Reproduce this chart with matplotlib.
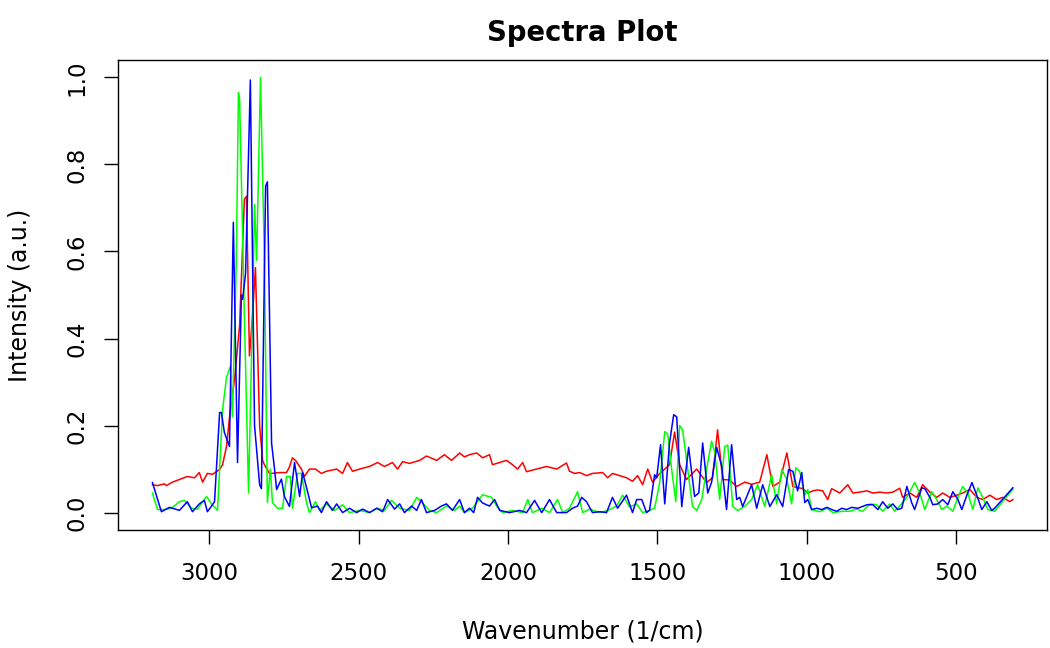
import matplotlib
matplotlib.use("Agg")
import matplotlib.pyplot as plt

# Spectra (wavenumber in 1/cm, intensity in a.u.)
red_wn = [3191, 3174, 3151, 3144, 3124, 3101, 3074, 3050, 3034, 3023, 3007, 2990,
          2966, 2956, 2943, 2930, 2916, 2899, 2883, 2876, 2866, 2856, 2846, 2832,
          2822, 2816, 2799, 2792, 2765, 2742, 2732, 2722, 2712, 2692, 2682, 2665,
          2645, 2625, 2608, 2574, 2554, 2538, 2521, 2497, 2464, 2437, 2414, 2387,
          2370, 2353, 2330, 2296, 2273, 2239, 2213, 2189, 2162, 2146, 2129, 2105,
          2085, 2062, 2052, 2028, 2005, 1985, 1968, 1951, 1938, 1904, 1871, 1837,
          1804, 1794, 1777, 1760, 1737, 1717, 1683, 1666, 1650, 1626, 1603, 1583,
          1566, 1549, 1532, 1516, 1492, 1475, 1459, 1442, 1425, 1402, 1368, 1335,
          1315, 1298, 1281, 1258, 1234, 1207, 1184, 1157, 1133, 1113, 1090, 1066,
          1046, 1013, 996, 979, 963, 946, 929, 916, 889, 862, 845, 822, 798, 778,
          755, 731, 711, 688, 678, 654, 631, 611, 587, 564, 544, 520, 497, 477,
          453, 430, 410, 386, 363, 343, 319, 309]
red_int = [0.064, 0.062, 0.066, 0.062, 0.070, 0.076, 0.083, 0.080, 0.092, 0.070, 0.090, 0.088,
           0.099, 0.110, 0.152, 0.237, 0.306, 0.430, 0.720, 0.727, 0.360, 0.450, 0.563, 0.200,
           0.120, 0.110, 0.090, 0.090, 0.092, 0.092, 0.105, 0.126, 0.120, 0.100, 0.083, 0.100,
           0.100, 0.090, 0.095, 0.100, 0.090, 0.115, 0.095, 0.100, 0.106, 0.115, 0.106, 0.115,
           0.100, 0.117, 0.113, 0.120, 0.130, 0.120, 0.133, 0.120, 0.137, 0.128, 0.133, 0.137,
           0.126, 0.133, 0.110, 0.115, 0.120, 0.110, 0.100, 0.115, 0.094, 0.100, 0.106, 0.100,
           0.114, 0.095, 0.090, 0.092, 0.085, 0.090, 0.092, 0.080, 0.090, 0.085, 0.080, 0.072,
           0.085, 0.064, 0.100, 0.070, 0.090, 0.100, 0.110, 0.185, 0.110, 0.076, 0.100, 0.069,
           0.080, 0.190, 0.076, 0.075, 0.060, 0.070, 0.065, 0.070, 0.133, 0.060, 0.070, 0.137,
           0.060, 0.055, 0.045, 0.050, 0.052, 0.050, 0.030, 0.055, 0.045, 0.064, 0.045, 0.047,
           0.050, 0.045, 0.047, 0.045, 0.047, 0.056, 0.035, 0.045, 0.035, 0.064, 0.047, 0.035,
           0.045, 0.035, 0.040, 0.045, 0.053, 0.035, 0.030, 0.040, 0.030, 0.035, 0.025, 0.030]

green_wn = [3191, 3174, 3151, 3127, 3101, 3084, 3060, 3040, 3010, 2993, 2973, 2956,
            2943, 2930, 2923, 2910, 2903, 2899, 2883, 2869, 2856, 2849, 2842, 2829,
            2816, 2806, 2796, 2789, 2772, 2755, 2742, 2729, 2722, 2705, 2692, 2675,
            2665, 2645, 2631, 2608, 2581, 2554, 2531, 2497, 2464, 2437, 2414, 2390,
            2363, 2330, 2306, 2290, 2263, 2239, 2206, 2179, 2162, 2146, 2119, 2085,
            2055, 2038, 2018, 1985, 1951, 1934, 1918, 1887, 1861, 1834, 1817, 1794,
            1767, 1750, 1727, 1693, 1666, 1636, 1616, 1593, 1569, 1549, 1526, 1509,
            1492, 1475, 1465, 1452, 1438, 1425, 1415, 1398, 1382, 1368, 1351, 1335,
            1318, 1308, 1291, 1274, 1264, 1247, 1231, 1207, 1184, 1164, 1140, 1117,
            1100, 1083, 1066, 1050, 1036, 1023, 1006, 996, 983, 956, 932, 912, 882,
            855, 832, 812, 788, 765, 745, 721, 705, 688, 664, 638, 621, 604, 581,
            564, 547, 530, 510, 493, 477, 460, 443, 426, 410, 393, 370, 309]
green_int = [0.045, 0.007, 0.007, 0.010, 0.025, 0.028, 0.010, 0.008, 0.037, 0.020, 0.005, 0.237,
             0.310, 0.336, 0.220, 0.580, 0.965, 0.950, 0.450, 0.045, 0.450, 0.708, 0.580, 1.000,
             0.580, 0.023, 0.100, 0.023, 0.010, 0.010, 0.083, 0.083, 0.010, 0.090, 0.090, 0.023,
             0.000, 0.025, 0.005, 0.020, 0.005, 0.018, 0.000, 0.005, 0.000, 0.010, 0.005, 0.028,
             0.010, 0.005, 0.035, 0.025, 0.005, 0.000, 0.015, 0.005, 0.015, 0.000, 0.010, 0.041,
             0.035, 0.015, 0.000, 0.005, 0.000, 0.030, 0.000, 0.010, 0.000, 0.030, 0.000, 0.010,
             0.048, 0.000, 0.008, 0.000, 0.005, 0.015, 0.040, 0.013, 0.020, 0.000, 0.005, 0.010,
             0.069, 0.186, 0.180, 0.100, 0.025, 0.200, 0.190, 0.100, 0.014, 0.005, 0.030, 0.100,
             0.164, 0.140, 0.030, 0.152, 0.155, 0.014, 0.005, 0.014, 0.030, 0.064, 0.014, 0.087,
             0.020, 0.099, 0.076, 0.020, 0.103, 0.095, 0.040, 0.053, 0.007, 0.002, 0.010, 0.000, 0.003,
             0.003, 0.008, 0.003, 0.020, 0.018, 0.003, 0.020, 0.003, 0.015, 0.035, 0.069, 0.045, 0.007, 0.048,
             0.030, 0.007, 0.015, 0.003, 0.035, 0.060, 0.045, 0.007, 0.057, 0.035, 0.007, 0.003, 0.054]

blue_wn = [3191, 3161, 3134, 3114, 3101, 3074, 3057, 3034, 3017, 3007, 2993, 2983,
           2966, 2960, 2950, 2933, 2920, 2906, 2893, 2889, 2879, 2863, 2849, 2832,
           2826, 2812, 2806, 2792, 2782, 2775, 2759, 2749, 2732, 2715, 2698, 2688,
           2672, 2658, 2638, 2625, 2608, 2588, 2574, 2554, 2531, 2507, 2487, 2464,
           2440, 2420, 2403, 2380, 2363, 2347, 2323, 2306, 2290, 2273, 2246, 2223,
           2206, 2186, 2162, 2146, 2129, 2115, 2102, 2085, 2062, 2045, 2028, 1995,
           1961, 1938, 1911, 1887, 1861, 1837, 1804, 1784, 1767, 1753, 1737, 1717,
           1693, 1670, 1650, 1633, 1603, 1583, 1569, 1552, 1536, 1526, 1509, 1502,
           1489, 1475, 1459, 1445, 1435, 1418, 1395, 1375, 1361, 1348, 1331, 1318,
           1301, 1284, 1268, 1251, 1234, 1224, 1214, 1184, 1167, 1147, 1123, 1100,
           1080, 1060, 1046, 1030, 1016, 1006, 996, 983, 966, 949, 932, 916, 899,
           882, 866, 849, 828, 798, 778, 761, 745, 728, 711, 695, 681, 664, 648,
           638, 614, 604, 587, 577, 560, 544, 527, 510, 493, 480, 463, 446, 430,
           413, 396, 380, 370, 309]
blue_int = [0.069, 0.002, 0.012, 0.008, 0.005, 0.025, 0.002, 0.020, 0.028, 0.002, 0.015, 0.025,
            0.230, 0.230, 0.184, 0.152, 0.667, 0.115, 0.500, 0.490, 0.550, 0.994, 0.200, 0.064,
            0.055, 0.750, 0.760, 0.160, 0.100, 0.053, 0.077, 0.037, 0.014, 0.115, 0.037, 0.092,
            0.050, 0.011, 0.015, 0.000, 0.025, 0.005, 0.020, 0.000, 0.010, 0.000, 0.008, 0.000,
            0.010, 0.002, 0.030, 0.008, 0.020, 0.000, 0.015, 0.005, 0.030, 0.000, 0.005, 0.015,
            0.020, 0.005, 0.030, 0.000, 0.010, 0.000, 0.035, 0.022, 0.015, 0.030, 0.005, 0.000,
            0.005, 0.000, 0.028, 0.000, 0.030, 0.000, 0.000, 0.010, 0.015, 0.035, 0.025, 0.000,
            0.002, 0.000, 0.035, 0.010, 0.040, 0.000, 0.030, 0.030, 0.000, 0.005, 0.087, 0.080,
            0.156, 0.020, 0.160, 0.225, 0.220, 0.014, 0.150, 0.037, 0.045, 0.160, 0.045, 0.070,
            0.150, 0.106, 0.007, 0.156, 0.030, 0.035, 0.014, 0.064, 0.010, 0.064, 0.014, 0.041,
            0.014, 0.099, 0.095, 0.050, 0.092, 0.023, 0.030, 0.007, 0.010, 0.007, 0.012, 0.007, 0.003,
            0.010, 0.007, 0.012, 0.010, 0.018, 0.018, 0.007, 0.025, 0.010, 0.020, 0.007, 0.010, 0.060, 0.023,
            0.007, 0.057, 0.055, 0.035, 0.018, 0.020, 0.030, 0.018, 0.048, 0.030, 0.007, 0.040, 0.069, 0.040,
            0.007, 0.025, 0.005, 0.010, 0.057]

x_ticks = [3000, 2500, 2000, 1500, 1000, 500]
y_ticks = [0.0, 0.2, 0.4, 0.6, 0.8, 1.0]

plt.rcParams['font.family'] = 'DejaVu Sans'
fig = plt.figure(figsize=(10.5, 6.48), dpi=100)
ax = fig.add_axes([0.1124, 0.1821, 0.885, 0.7253])

ax.plot(red_wn, red_int, color='#ff0000', lw=1.1)
ax.plot(green_wn, green_int, color='#00ff00', lw=1.1)
ax.plot(blue_wn, blue_int, color='#0000ff', lw=1.1)

# R-style 4% padding, reversed x axis
all_wn = red_wn + green_wn + blue_wn
lo, hi = min(all_wn), max(all_wn)
pad = 0.04 * (hi - lo)
ax.set_xlim(hi + pad, lo - pad)
ax.set_ylim(-0.04, 1.04)

ax.set_xticks(x_ticks)
ax.set_xticklabels([str(t) for t in x_ticks])
ax.set_yticks(y_ticks)
ax.set_yticklabels(["%.1f" % t for t in y_ticks])
ax.tick_params(axis='both', direction='out', length=10, width=1.0, labelsize=16.5, color='black')
ax.tick_params(axis='x', pad=13)
ax.tick_params(axis='y', pad=11, labelrotation=90)
for lab in ax.get_yticklabels():
    lab.set_va('center')

for sp in ax.spines.values():
    sp.set_linewidth(1.0)
    sp.set_color('black')

ax.set_title("Spectra Plot", fontsize=19.8, fontweight='bold', pad=14)
ax.set_xlabel("Wavenumber (1/cm)", fontsize=17)
ax.set_ylabel("Intensity (a.u.)", fontsize=17)
ax.xaxis.set_label_coords(0.5, -0.215)
ax.xaxis.label.set_va('center')
ax.yaxis.set_label_coords(-0.1055, 0.5)
ax.yaxis.label.set_va('center')

fig.savefig("out.png", dpi=100)
